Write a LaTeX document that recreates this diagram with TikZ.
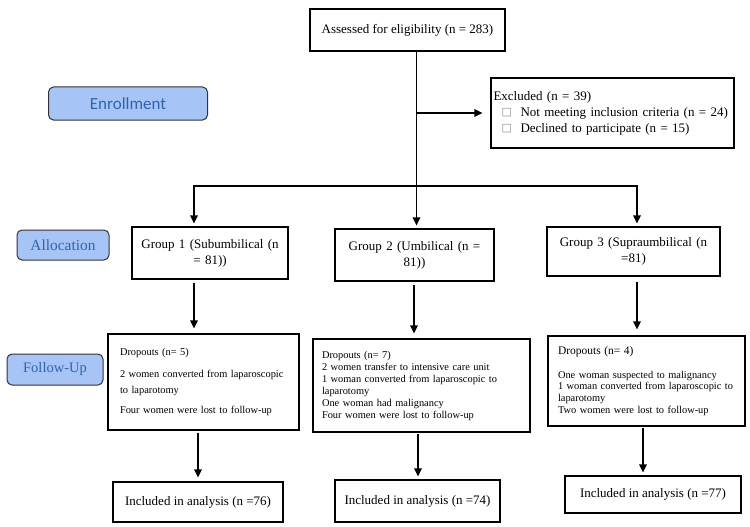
\documentclass[tikz,border=0pt]{standalone}
\usepackage{fontspec}
\setmainfont{Liberation Serif}
\newfontfamily\carlitofont{Carlito}
\newfontfamily\dejavufont{DejaVu Sans}
\usetikzlibrary{arrows.meta}
\definecolor{lblfill}{RGB}{166,196,245}
\definecolor{lbltext}{RGB}{47,101,176}
\newcommand\chkbox{\makebox[27pt][l]{\hspace{8pt}\raisebox{0.5pt}{\dejavufont\fontsize{11}{11}\selectfont\textcolor{black!45}{□}}}}
\begin{document}
\begin{tikzpicture}[x=1pt,y=-1pt,
  box/.style={draw=black,line width=1.2pt,inner sep=0pt,rectangle},
  lbl/.style={draw=black!80,line width=1pt,fill=lblfill,rounded corners=5pt,inner sep=0pt,text=lbltext},
  conn/.style={line width=1.5pt,line join=miter},
  arr/.style={conn,-{Triangle[length=8pt,width=7.5pt]}},
  grp/.style={box,align=center,font=\fontsize{13}{16}\selectfont},
  drop/.style={box,align=left,font=\fontsize{10.4}{12}\selectfont},
  incl/.style={box,font=\fontsize{13}{16}\selectfont}
]
\useasboundingbox (0,0) rectangle (750,527);

% stage labels
\node[lbl,minimum width=159pt,minimum height=33pt,font=\carlitofont\fontsize{17}{20}\selectfont] (enr) at (128,103.5) {Enrollment};
\node[lbl,minimum width=92pt,minimum height=30pt,font=\fontsize{15.4}{18}\selectfont] (alloc) at (63,245) {Allocation};
\node[lbl,minimum width=96pt,minimum height=31pt,font=\fontsize{14.5}{18}\selectfont] (fup) at (55,369.5) {Follow-Up};

% top
\node[box,minimum width=195pt,minimum height=42pt,font=\fontsize{13}{16}\selectfont] (assess) at (407.5,30) {Assessed for eligibility (n = 283)};
\node[box,minimum width=243pt,minimum height=70pt,text width=238pt,align=left,font=\fontsize{13}{16}\selectfont] (excl) at (612.5,113)
  {\mbox{Excluded (n = 39)}\\\mbox{\chkbox Not meeting inclusion criteria (n = 24)}\\\mbox{\chkbox Declined to participate (n = 15)}};

% groups
\node[grp,minimum width=156pt,minimum height=52pt,text width=146pt] (g1) at (210,253) {Group 1 (Subumbilical (n\\= 81))};
\node[grp,minimum width=159pt,minimum height=52pt,text width=149pt] (g2) at (414.5,255) {Group 2 (Umbilical (n =\\81))};
\node[grp,minimum width=173pt,minimum height=49pt,text width=163pt] (g3) at (633.5,251.5) {Group 3 (Supraumbilical (n\\=81)};

% dropouts
\node[drop,minimum width=191pt,minimum height=96pt,text width=167pt,font=\fontsize{10.4}{16}\selectfont] (d1) at (203.5,382)
  {Dropouts (n= 5)\\[6pt]2 women converted from laparoscopic\\to laparotomy\\[4pt]Four women were lost to follow-up};
\node[drop,minimum width=217pt,minimum height=93pt,text width=199pt] (d2) at (421.5,385.5)
  {Dropouts (n= 7)\\2 women transfer to intensive care unit\\1 woman converted from laparoscopic to\\laparotomy\\One woman had malignancy\\Four women were lost to follow-up};
\node[drop,minimum width=197pt,minimum height=90pt,text width=177pt,font=\fontsize{10.4}{11.7}\selectfont] (d3) at (646.5,381)
  {{\fontsize{11.5}{11.7}\selectfont Dropouts (n= 4)}\\[12pt]One woman suspected to malignancy\\1 woman converted from laparoscopic to\\laparotomy\\Two women were lost to follow-up};

% included
\node[incl,minimum width=170pt,minimum height=40pt] (i1) at (198,502) {Included in analysis (n =76)};
\node[incl,minimum width=165pt,minimum height=42pt] (i2) at (417.5,501) {Included in analysis (n =74)};
\node[incl,minimum width=176pt,minimum height=37pt] (i3) at (653,494.5) {Included in analysis (n =77)};

% connector coordinates
\coordinate (t) at (416.5,186);
\coordinate (b1) at (194,186);
\coordinate (b3) at (637,186);
\coordinate (xa) at (414,0);
\coordinate (xb1) at (198,0);
\coordinate (xb2) at (418,0);
\coordinate (xb3) at (643,0);

% connectors
\draw[conn] (assess.south -| t) -- (t);
\draw[arr,shorten >=8pt] (excl.west -| t) -- (excl.west);
\draw[arr,shorten >=3pt] (t) -- (b1) -- (g1.north -| b1);
\draw[arr,shorten >=3pt] (t) -- (b3) -- (g3.north -| b3);
\draw[arr,shorten >=3pt] (t) -- (g2.north -| t);

\draw[arr,shorten <=3pt,shorten >=5pt] (g1.south -| b1) -- (d1.north -| b1);
\draw[arr,shorten <=3pt,shorten >=5pt] (g2.south -| xa) -- (d2.north -| xa);
\draw[arr,shorten <=5pt,shorten >=6pt] (g3.south -| b3) -- (d3.north -| b3);

\draw[arr,shorten <=2pt,shorten >=4pt] (d1.south -| xb1) -- (i1.north -| xb1);
\draw[arr,shorten <=1pt,shorten >=3pt] (d2.south -| xb2) -- (i2.north -| xb2);
\draw[arr,shorten <=1pt,shorten >=3pt] (d3.south -| xb3) -- (i3.north -| xb3);
\end{tikzpicture}
\end{document}
